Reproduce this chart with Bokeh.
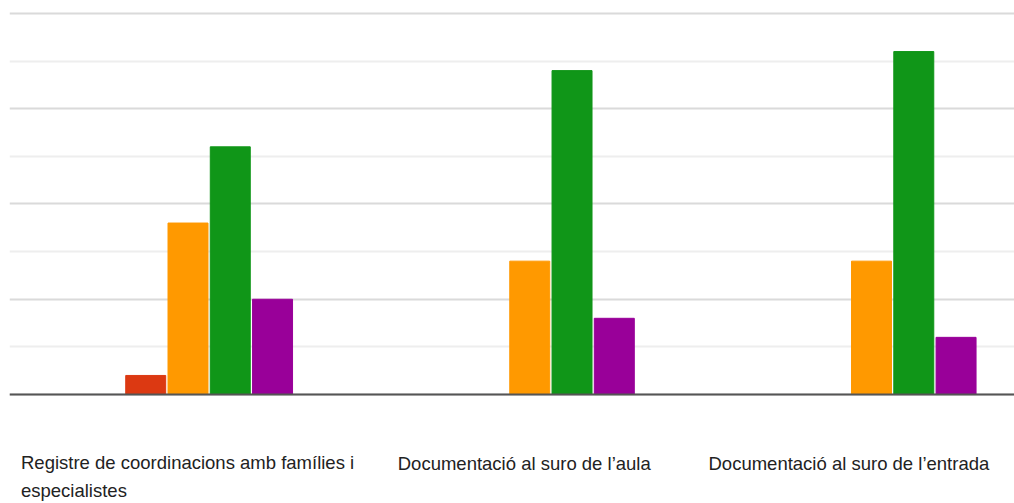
from bokeh.plotting import figure
from bokeh.models import FixedTicker, Range1d, Span, ColumnDataSource
from bokeh.core.properties import value
from bokeh.embed import file_html
from bokeh.resources import INLINE

categories = ["Registre de coordinacions amb famílies i\nespecialistes",
              "Documentació al suro de l’aula",
              "Documentació al suro de l’entrada"]
series_names = ["S1", "S2", "S3", "S4", "S5"]
series_values = [
    [0, 0, 0],
    [1, 0, 0],
    [9, 7, 7],
    [13, 17, 18],
    [5, 4, 3],
]
major_ticks = [0, 5, 10, 15, 20]
minor_ticks = [2.5, 7.5, 12.5, 17.5]

# style
colors = ["#3366cc", "#dc3912", "#ff9900", "#109618", "#990099"]
label_x_offsets = [-167, -132, -163]
label_y_offsets = [82, 69, 69]

p = figure(width=1014, height=503, output_backend="svg", toolbar_location=None,
           x_range=Range1d(-0.5223, 2.4184), y_range=Range1d(-5.72, 20.68),
           min_border_left=9, min_border_right=0, min_border_top=0, min_border_bottom=0)
p.outline_line_color = None
p.background_fill_color = "white"
p.border_fill_color = "white"
p.xaxis.visible = False
p.yaxis.visible = False
p.xgrid.visible = False
p.ygrid.ticker = FixedTicker(ticks=major_ticks, minor_ticks=minor_ticks)
p.ygrid.grid_line_color = "#dadada"
p.ygrid.grid_line_width = 2
p.ygrid.minor_grid_line_color = "#eeeeee"
p.ygrid.minor_grid_line_width = 2

baseline = Span(location=0, dimension="width", line_color="#555555", line_width=2)
p.add_layout(baseline)

step = 0.1237
bw = 0.117
xs = list(range(len(categories)))
for i, (vals, c) in enumerate(zip(series_values, colors)):
    off = (i - 2) * step
    xx = [x + off for x in xs]
    p.vbar(x=xx, top=vals, bottom=0, width=bw, fill_color=c, line_color=c,
           line_width=1, line_alpha=[0.35 if v == 0 else 1 for v in vals])

src = ColumnDataSource(dict(x=xs, y=[0] * len(xs), text=categories,
                            xo=label_x_offsets, yo=label_y_offsets))
p.text(x="x", y="y", text="text", x_offset="xo", y_offset="yo", source=src,
       text_align="left", text_baseline="alphabetic",
       text_font=value("Liberation Sans"), text_font_size="18.5px",
       text_color="#222222", text_line_height=1.35)

open("out.html", "w").write(file_html(p, INLINE))
